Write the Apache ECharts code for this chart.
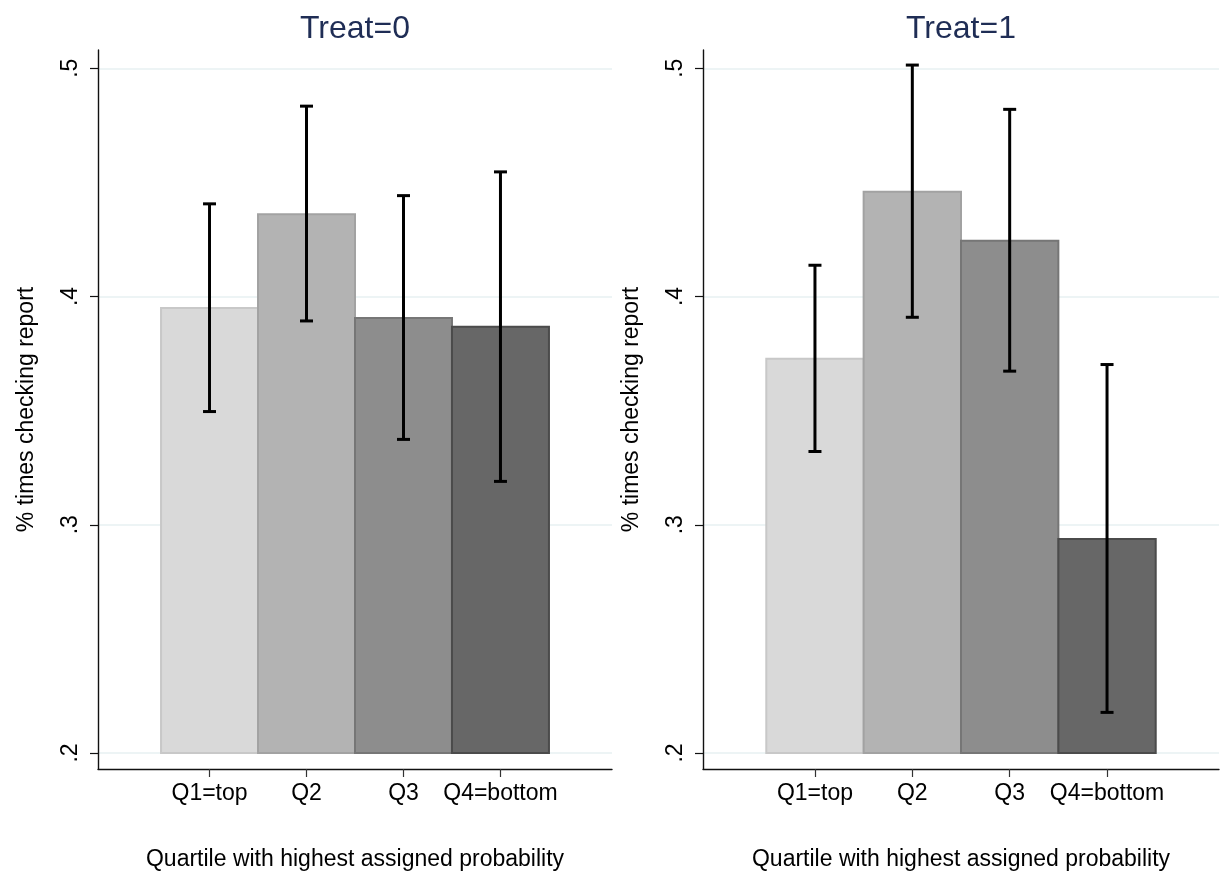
<!DOCTYPE html>
<html>
<head>
<meta charset="utf-8">
<title>% times checking report by quartile</title>
<script src="https://cdn.jsdelivr.net/npm/echarts@6/dist/echarts.min.js"></script>
<style>
  html, body { margin: 0; padding: 0; background: #ffffff; }
  #chart { width: 1225px; height: 878px; }
</style>
</head>
<body>
<div id="chart"></div>
<script>
// Quartile categories shown along each x axis
const categories = ['Q1=top', 'Q2', 'Q3', 'Q4=bottom'];

// Treat=0: mean share and confidence interval per quartile
const treat0Mean = [0.395, 0.436, 0.3906, 0.3867];
const treat0Low  = [0.3496, 0.3893, 0.3374, 0.3190];
const treat0High = [0.4406, 0.4834, 0.4442, 0.4546];

// Treat=1: mean share and confidence interval per quartile
const treat1Mean = [0.3727, 0.4459, 0.4244, 0.2938];
const treat1Low  = [0.3321, 0.3909, 0.3673, 0.2178];
const treat1High = [0.4137, 0.5014, 0.4820, 0.3702];

// Panel titles and axis text
const panelTitles = ['Treat=0', 'Treat=1'];
const yTicks = [0.2, 0.3, 0.4, 0.5];
const yTickText = ['.2', '.3', '.4', '.5'];
const xTitle = 'Quartile with highest assigned probability';
const yTitle = '% times checking report';

// Styling
const barFill   = ['#d9d9d9', '#b3b3b3', '#8d8d8d', '#676767'];
const barBorder = ['#c8c8c8', '#a2a2a2', '#767676', '#4b4b4b'];
const BAR_BASE = 0.2;
const FONT = '"Liberation Sans", Arial, sans-serif';

const chart = echarts.init(document.getElementById('chart'), null, { renderer: 'canvas' });

const panels = [
  { left: 98, width: 514, center: 355, mean: treat0Mean, low: treat0Low, high: treat0High },
  { left: 703, width: 516, center: 961, mean: treat1Mean, low: treat1Low, high: treat1High }
];

const grids = [], xAxes = [], yAxes = [], series = [], graphics = [];

panels.forEach(function (p, i) {
  grids.push({ left: p.left, width: p.width, top: 50, height: 719, containLabel: false });

  xAxes.push({
    type: 'value', gridIndex: i, min: -1.15, max: 4.15,
    name: xTitle, nameLocation: 'middle', nameGap: 79,
    nameTextStyle: { fontFamily: FONT, fontSize: 23, color: '#000' },
    axisLine: { show: true, onZero: false, lineStyle: { color: '#111', width: 1.4 } },
    axisTick: { show: true, length: 8, customValues: [0, 1, 2, 3], lineStyle: { color: '#333', width: 1.2 } },
    axisLabel: {
      customValues: [0, 1, 2, 3], margin: 13,
      fontFamily: FONT, fontSize: 23, color: '#000',
      formatter: function (v) { return categories[Math.round(v)]; }
    },
    splitLine: { show: false }
  });

  yAxes.push({
    type: 'value', gridIndex: i, min: 0.193, max: 0.508,
    name: yTitle, nameLocation: 'middle', nameGap: 60,
    nameTextStyle: { fontFamily: FONT, fontSize: 23, color: '#000' },
    axisLine: { show: true, onZero: false, lineStyle: { color: '#111', width: 1.4 } },
    axisTick: { show: true, length: 8, customValues: yTicks, lineStyle: { color: '#111', width: 1.2 } },
    axisLabel: {
      customValues: yTicks, rotate: 90, margin: 16,
      fontFamily: FONT, fontSize: 23, color: '#000',
      formatter: function (v) {
        const k = yTicks.findIndex(function (t) { return Math.abs(t - v) < 1e-6; });
        return k >= 0 ? yTickText[k] : '';
      }
    },
    splitLine: { show: true, lineStyle: { color: '#e7f0f2', width: 1.6 } }
  });

  // Bars: one rectangle per quartile, from the base to the mean
  series.push({
    type: 'custom', xAxisIndex: i, yAxisIndex: i, clip: false,
    data: p.mean.map(function (m, k) { return [k, m]; }),
    renderItem: function (params, api) {
      const k = api.value(0);
      const a = api.coord([k - 0.5, BAR_BASE]);
      const b = api.coord([k + 0.5, api.value(1)]);
      return {
        type: 'rect',
        shape: { x: a[0], y: b[1], width: b[0] - a[0], height: a[1] - b[1] },
        style: { fill: barFill[k], stroke: barBorder[k], lineWidth: 2 }
      };
    },
    z: 2
  });

  // Confidence intervals: vertical whisker with end caps
  series.push({
    type: 'custom', xAxisIndex: i, yAxisIndex: i, clip: false,
    data: p.low.map(function (lo, k) { return [k, lo, p.high[k]]; }),
    renderItem: function (params, api) {
      const k = api.value(0);
      const lo = api.coord([k, api.value(1)]);
      const hi = api.coord([k, api.value(2)]);
      const half = 6.5;
      const st = { stroke: '#000', lineWidth: 3 };
      return {
        type: 'group',
        children: [
          { type: 'line', shape: { x1: lo[0], y1: lo[1], x2: hi[0], y2: hi[1] }, style: st },
          { type: 'line', shape: { x1: hi[0] - half, y1: hi[1], x2: hi[0] + half, y2: hi[1] }, style: st },
          { type: 'line', shape: { x1: lo[0] - half, y1: lo[1], x2: lo[0] + half, y2: lo[1] }, style: st }
        ]
      };
    },
    z: 3
  });

  graphics.push({
    type: 'text', x: p.center, y: 29,
    style: {
      text: panelTitles[i], align: 'center', verticalAlign: 'middle',
      font: '32px ' + FONT, fill: '#1f2d55'
    }
  });
});

chart.setOption({
  backgroundColor: '#ffffff',
  animation: false,
  grid: grids,
  xAxis: xAxes,
  yAxis: yAxes,
  series: series,
  graphic: graphics
});
</script>
</body>
</html>
